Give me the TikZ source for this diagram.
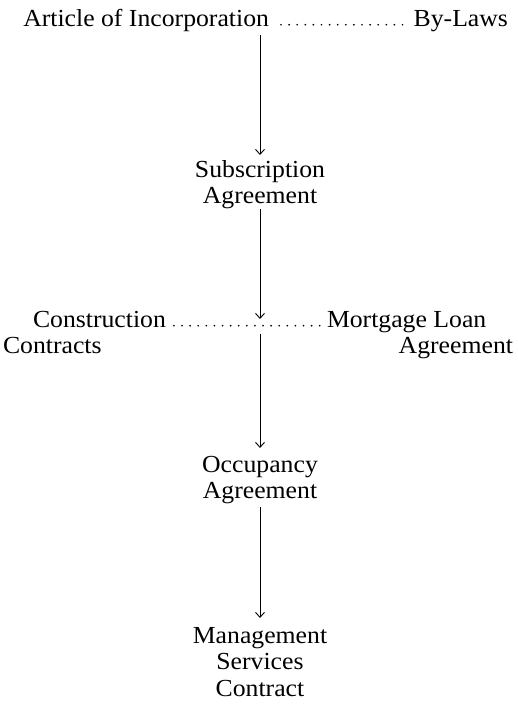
\documentclass[tikz,border=0pt]{standalone}
\usepackage{fontspec}
\setmainfont{Liberation Serif}[FakeStretch=1.05]
\usetikzlibrary{arrows.meta}
\tikzset{
  lbl/.style={inner sep=0pt, outer sep=0pt, font=\fontsize{24.5}{26.8}\selectfont},
  arr/.style={line width=0.9pt, -{Straight Barb[length=5pt,width=9pt,line width=0.9pt]}},
  dotrow/.style={line width=1.9pt, line cap=round, dash pattern=on 0pt off 8.1pt},
}
\begin{document}
\begin{tikzpicture}[x=1pt,y=1pt]
\useasboundingbox (0,0) rectangle (518,-705);
% top row
\node[lbl, anchor=base east] (art) at (269,-26) {Article of Incorporation};
\node[lbl, anchor=base east] (bylaws) at (508,-26) {By-Laws};
\draw[dotrow] ([xshift=12pt,yshift=1.3pt]art.base east) -- ([xshift=-10pt,yshift=1.3pt]bylaws.base west);
% subscription
\node[lbl, anchor=base] (sub) at (260,-177) {\begin{tabular}[t]{@{}c@{}}Subscription\\Agreement\end{tabular}};
% middle row
\node[lbl, anchor=base west] (con1) at (33,-327) {Construction};
\node[lbl, anchor=base west] (con2) at (3,-353) {Contracts};
\node[lbl, anchor=base west] (mort1) at (327,-327) {Mortgage Loan};
\node[lbl, anchor=base east] (mort2) at (513,-353) {Agreement};
\coordinate (hub) at (sub.base |- con1.base);
\draw[dotrow] ([xshift=8pt,yshift=1.3pt]con1.base east) -- ([xshift=-7pt,yshift=1.3pt]mort1.base west);
% occupancy
\node[lbl, anchor=base] (occ) at (260,-472) {\begin{tabular}[t]{@{}c@{}}Occupancy\\Agreement\end{tabular}};
% management
\node[lbl, anchor=base] (mgmt) at (260,-643) {\begin{tabular}[t]{@{}c@{}}Management\\Services\\Contract\end{tabular}};
% arrows
\draw[arr] ([yshift=-9pt]art.base -| sub.base) -- ([yshift=22pt]sub.base);
\draw[arr] ([yshift=-32pt]sub.base) -- ([yshift=8pt]hub);
\draw[arr] ([yshift=-7pt]hub) -- ([yshift=24pt]occ.base);
\draw[arr] ([yshift=-35pt]occ.base) -- ([yshift=25pt]mgmt.base);
\end{tikzpicture}
\end{document}
